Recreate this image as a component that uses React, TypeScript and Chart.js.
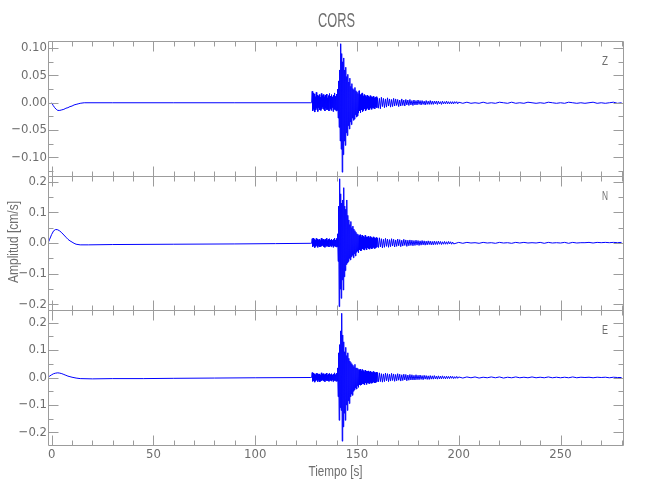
import React, { useEffect, useRef } from "react";
import { Chart, registerables } from "chart.js";

Chart.register(...registerables);

// ---------------- text ----------------
const TITLE = "CORS";
const X_TITLE = "Tiempo [s]";
const Y_TITLE = "Amplitud [cm/s]";

// ---------------- axes ----------------
const X_MIN = -1.8;
const X_MAX = 280.7;
const X_TICKS = [0, 50, 100, 150, 200, 250];
const X_MINOR = [0, 10, 20, 30, 40, 50, 60, 70, 80, 90, 100, 110, 120, 130, 140, 150, 160, 170, 180, 190, 200, 210, 220, 230, 240, 250, 260, 270, 280];

const Z_TICKS = [-0.1, -0.05, 0, 0.05, 0.1];
const Z_MINOR = [-0.125, -0.1, -0.075, -0.05, -0.025, 0, 0.025, 0.05, 0.075, 0.1];
const NE_TICKS = [-0.2, -0.1, 0, 0.1, 0.2];
const NE_MINOR = [-0.2, -0.15, -0.1, -0.05, 0, 0.05, 0.1, 0.15, 0.2];

// ---------------- data (amplitudes in 0.001 cm/s) ----------------
const UNIT = 0.001;
const ACTIVE_START = 127.5; // s, sample step below
const ACTIVE_STEP = 0.25;
const CODA_START = 160;
const CODA_STEP = 0.5;
const LATE_START = 200;
const LATE_STEP = 2;

// Z component
const zEarlyT = [0, 0.75, 1.5, 2.25, 3, 4, 5, 6, 7, 8, 9, 10, 11, 12, 13, 14, 16, 30, 60, 90, 127];
const zEarlyV = [0, -5, -9, -12, -14, -14, -13, -12, -10, -9, -7, -6, -4, -3, -2, -1, 0, 0, 0, 0, 0];
const zActive = [
  0, 1,
  21, -15, 18, -12, 16, -17, 11, -13, 19, -10, 14, -16, 12, -9, 15, -13, 10, -14, 17, -11, 13, -8, 15, -12, 11, -15,
  14, -10, 16, -13, 9, -12, 13, -15, 17, -11, 12, -14, 15, -9, 11, -16, 14, -12, 18, -13, 12, -15, 16, -14,
  25, -28, 40, -45, 60, -70, 108, -85, 90, -127, 75, -95, 82, -70, 60, -78, 65, -55, 48, -60, 52, -42, 38, -48,
  45, -35, 30, -40, 35, -28, 26, -32, 24, -30, 28, -22, 22, -26,
  20, -24, 17, -19, 22, -15, 14, -18, 16, -13, 18, -16, 12, -14, 15, -11, 13, -15, 11, -12, 14, -10, 12, -13,
  10, -12, 13, -9, 11, -12, 10, -9, 12, -10, 9, -11, 10, -8, 11, -9,
];
const zCoda = [
  9, -10, 8, -11, 10, -7, 8, -9, 7, -8, 9, -6, 7, -8, 6, -7, 8, -6, 7, -5, 6, -7, 5, -6, 7, -5, 5, -6, 6, -4,
  5, -5, 6, -4, 4, -5, 5, -4, 4, -4, 5, -3, 4, -4, 4, -3, 3, -4, 4, -3, 3, -3, 4, -3, 3, -3, 3, -2, 3, -3,
  3, -2, 2, -3, 3, -2, 2, -2, 3, -2, 2, -2, 2, -2, 2, -2, 2, -1, 2, -2,
];
const zLate = [
  1, -1, 1, -1, 0, -1, 1, -1, 0, -1, 1, 0, -1, 1, -1, 0, -1, 1, 0, -1, 0, -1, 1, 0, -1, 0, -1, 1, 0, -1,
  0, -1, 0, 1, -1, 0, -1, 0, 1, -1, 0,
];

// N component
const nEarlyT = [-1.8, -1, 0, 1, 2, 3, 4, 5, 6, 7, 8, 9, 10, 11, 12, 14, 18, 30, 60, 90, 110, 127];
const nEarlyV = [0, 12, 28, 40, 44, 43, 39, 33, 26, 19, 12, 7, 3, -1, -4, -6, -6, -5, -4, -3, -2, -1];
const nActive = [
  -1, 0,
  14, -12, 16, -10, 12, -15, 9, -11, 15, -8, 13, -14, 10, -9, 12, -13, 8, -11, 16, -10, 11, -7, 13, -12, 9, -14,
  12, -8, 15, -11, 8, -10, 12, -13, 14, -9, 10, -12, 13, -8, 9, -14, 12, -10, 16, -11, 10, -13, 15, -12,
  30, -60, 120, -207, 209, -150, 160, -180, 130, -120, 140, -153, 180, -110, 120, -90, 110, -70, 140, -65,
  90, -60, 75, -50, 60, -55, 70, -45, 50, -40, 55, -48, 45, -35, 40, -42, 35, -30,
  30, -26, 28, -32, 24, -22, 27, -25, 20, -24, 26, -19, 22, -21, 18, -23, 25, -17, 20, -22, 19, -16, 22, -18,
  17, -20, 21, -15, 18, -19, 16, -17, 20, -14, 17, -18, 15, -16, 18, -13,
];
const nCoda = [
  16, -15, 17, -13, 14, -16, 12, -14, 15, -11, 13, -14, 11, -12, 14, -10, 12, -13, 10, -11, 13, -9, 11, -12,
  9, -10, 12, -8, 10, -11, 9, -9, 10, -8, 9, -9, 8, -8, 9, -7, 8, -8, 7, -7, 8, -6, 7, -7, 6, -6, 7, -5,
  6, -6, 5, -6, 6, -5, 5, -5, 6, -4, 5, -5, 4, -4, 5, -4, 4, -4, 5, -3, 4, -4, 3, -3,
];
const nLate = [
  2, -1, 2, 0, 1, -1, 2, 0, 1, -1, 2, 0, 1, -1, 2, 0, 2, 0, 1, 0, 2, -1, 2, 0, 1, 0, 2, -1, 2, 0,
  1, 1, 2, 0, 2, 1, 2, 1, 2, 1, 2,
];

// E component
const eEarlyT = [-1.8, -1, 0, 1, 2, 3, 4, 5, 6, 7, 8, 9, 10, 12, 14, 20, 30, 45, 60, 80, 100, 127];
const eEarlyV = [0, 5, 10, 14, 16, 17, 16, 14, 11, 8, 5, 3, 1, -2, -4, -5, -4, -4, -3, -2, -1, 0];
const eActive = [
  0, 1,
  18, -14, 16, -12, 13, -17, 10, -12, 15, -9, 14, -15, 11, -10, 13, -16, 9, -12, 17, -11, 12, -8, 14, -13, 10, -15,
  13, -9, 16, -12, 9, -11, 13, -14, 15, -10, 11, -13, 14, -9, 10, -15, 13, -11, 17, -12, 11, -14, 16, -13,
  35, -70, 90, -156, 120, -110, 170, -120, 234, -232, 155, -180, 130, -130, 94, -156, 110, -100, 80, -120,
  90, -85, 70, -95, 60, -70, 55, -60, 50, -65, 45, -50, 40, -45, 48, -38, 35, -42,
  35, -30, 32, -36, 28, -26, 30, -28, 24, -27, 29, -22, 25, -24, 21, -26, 27, -20, 23, -25, 22, -19, 24, -21,
  20, -22, 23, -18, 20, -21, 18, -19, 22, -16, 19, -20, 17, -18, 20, -15,
];
const eCoda = [
  18, -16, 17, -15, 14, -17, 13, -15, 16, -12, 14, -15, 12, -13, 15, -11, 13, -14, 11, -12, 14, -10, 12, -13,
  10, -11, 12, -9, 11, -12, 9, -10, 11, -9, 10, -9, 8, -9, 10, -8, 8, -8, 9, -7, 7, -8, 8, -6, 7, -7,
  6, -7, 7, -6, 6, -6, 7, -5, 5, -6, 6, -5, 5, -5, 6, -4, 4, -5, 5, -4, 4, -4, 5, -3, 4, -4, 3, -3, 4, -3,
];
const eLate = [
  2, -2, 2, -1, 2, -2, 1, -1, 2, -1, 2, -2, 1, -1, 2, -1, 1, -1, 2, -1, 1, -1, 2, -1, 1, -1, 1, -1, 2, -1,
  1, 0, 1, -1, 1, 0, 1, -1, 1, 0, 0,
];

// ---------------- style ----------------
const FONT = '"Liberation Sans Narrow", "DejaVu Sans Condensed", "Liberation Sans", sans-serif';
const TEXT_FONT = '"Liberation Sans", sans-serif';
const TEXT_COLOR = "#6e6e6e";
const FRAME_COLOR = "#9c9c9c";
const LINE_COLOR = "#0000ff";

type Pt = { x: number; y: number };

function buildSeries(et: number[], ev: number[], active: number[], coda: number[], late: number[]): Pt[] {
  const pts: Pt[] = [];
  et.forEach((t, i) => pts.push({ x: t, y: ev[i] * UNIT }));
  active.forEach((v, i) => pts.push({ x: ACTIVE_START + i * ACTIVE_STEP, y: v * UNIT }));
  coda.forEach((v, i) => pts.push({ x: CODA_START + i * CODA_STEP, y: v * UNIT }));
  late.forEach((v, i) => pts.push({ x: LATE_START + i * LATE_STEP, y: v * UNIT }));
  return pts;
}

const fmt = (v: number, d: number) => {
  const s = Math.abs(v).toFixed(d);
  return v < -1e-9 ? "\u2212" + s : s;
};

// draws narrow text: font size sets height, width is squeezed to the target width
function narrowText(ctx: CanvasRenderingContext2D, text: string, x: number, y: number, size: number, width: number, rotate = false) {
  ctx.save();
  ctx.font = `${size}px ${TEXT_FONT}`;
  const w = ctx.measureText(text).width;
  ctx.translate(x, y);
  if (rotate) ctx.rotate(-Math.PI / 2);
  ctx.scale(width / w, 1);
  ctx.textAlign = "center";
  ctx.textBaseline = "middle";
  ctx.fillText(text, 0, 0);
  ctx.restore();
}

const PANELS = [
  {
    name: "Z", data: () => buildSeries(zEarlyT, zEarlyV, zActive, zCoda, zLate),
    yMin: -0.134, yMax: 0.113, ticks: Z_TICKS, minor: Z_MINOR, dec: 2,
    padTop: 41, padBottom: 324, showX: false, title: true, yTitle: false,
  },
  {
    name: "N", data: () => buildSeries(nEarlyT, nEarlyV, nActive, nCoda, nLate),
    yMin: -0.218, yMax: 0.218, ticks: NE_TICKS, minor: NE_MINOR, dec: 1,
    padTop: 176, padBottom: 190, showX: false, title: false, yTitle: true,
  },
  {
    name: "E", data: () => buildSeries(eEarlyT, eEarlyV, eActive, eCoda, eLate),
    yMin: -0.246, yMax: 0.246, ticks: NE_TICKS, minor: NE_MINOR, dec: 1,
    padTop: 310, padBottom: 0, showX: true, title: false, yTitle: false,
  },
];

function makeFramePlugin(p: (typeof PANELS)[number]) {
  return {
    id: "frame" + p.name,
    afterDatasetsDraw(chart: any) {
      const { ctx, chartArea: a, scales } = chart;
      const xs = scales.x;
      const ys = scales.y;
      ctx.save();
      ctx.strokeStyle = FRAME_COLOR;
      ctx.lineWidth = 1;
      const L = Math.round(a.left) + 0.5;
      const R = Math.round(a.right) + 0.5;
      const T = Math.round(a.top) + 0.5;
      const B = Math.round(a.bottom) + 0.5;
      ctx.beginPath();
      ctx.rect(L, T, R - L, B - T);
      X_MINOR.forEach((v) => {
        const px = Math.round(xs.getPixelForValue(v)) + 0.5;
        const len = v % 50 === 0 ? 10 : 5;
        ctx.moveTo(px, B); ctx.lineTo(px, B - len);
        ctx.moveTo(px, T); ctx.lineTo(px, T + len);
      });
      p.minor.forEach((v) => {
        const py = Math.round(ys.getPixelForValue(v)) + 0.5;
        const major = p.ticks.some((t) => Math.abs(t - v) < 1e-9);
        const len = major ? 10 : 5;
        ctx.moveTo(L, py); ctx.lineTo(L + len, py);
        ctx.moveTo(R, py); ctx.lineTo(R - len, py);
      });
      ctx.stroke();

      ctx.fillStyle = TEXT_COLOR;
      narrowText(ctx, p.name, a.right - 18, a.top + 21, 12, 6);

      const cx = (a.left + a.right) / 2;
      if (p.title) narrowText(ctx, TITLE, cx + 1, 21, 21, 37);
      if (p.showX) narrowText(ctx, X_TITLE, cx, 472, 14, 54);
      if (p.yTitle) narrowText(ctx, Y_TITLE, 14.5, 242, 14, 82, true);
      ctx.restore();
    },
  };
}

function Panel({ p }: { p: (typeof PANELS)[number] }) {
  const ref = useRef<HTMLCanvasElement | null>(null);
  useEffect(() => {
    if (!ref.current) return;
    const chart = new Chart(ref.current, {
      type: "line",
      data: {
        datasets: [
          {
            data: p.data(),
            borderColor: LINE_COLOR,
            borderWidth: 1,
            pointRadius: 0,
            fill: false,
            tension: 0,
          },
        ],
      },
      options: {
        animation: false,
        responsive: false,
        events: [],
        parsing: false as any,
        layout: { padding: { top: p.padTop, bottom: p.padBottom, left: 0, right: 27 } },
        plugins: { legend: { display: false }, tooltip: { enabled: false }, title: { display: false } },
        scales: {
          x: {
            type: "linear",
            min: X_MIN,
            max: X_MAX,
            display: p.showX,
            grid: { display: false, drawTicks: false },
            border: { display: false },
            afterBuildTicks: (s: any) => { s.ticks = X_TICKS.map((v) => ({ value: v })); },
            afterFit: (s: any) => { s.height = p.showX ? 55 : 0; },
            ticks: {
              color: TEXT_COLOR,
              font: { family: FONT, size: 13 },
              padding: 2,
              maxRotation: 0,
              autoSkip: false,
              callback: (v: any) => String(v),
            },
          },
          y: {
            type: "linear",
            min: p.yMin,
            max: p.yMax,
            grid: { display: false, drawTicks: false },
            border: { display: false },
            afterBuildTicks: (s: any) => { s.ticks = p.ticks.map((v) => ({ value: v })); },
            afterFit: (s: any) => { s.width = 48; },
            ticks: {
              color: TEXT_COLOR,
              font: { family: FONT, size: 13 },
              padding: 1,
              autoSkip: false,
              callback: (v: any) => fmt(Number(v), p.dec),
            },
          },
        },
      } as any,
      plugins: [makeFramePlugin(p)],
    });
    return () => chart.destroy();
  }, [p]);
  return (
    <canvas
      ref={ref}
      width={650}
      height={500}
      style={{ position: "absolute", left: 0, top: 0, width: 650, height: 500 }}
    />
  );
}

export default function App() {
  return (
    <div style={{ position: "fixed", left: 0, top: 0, width: 650, height: 500, background: "#fff" }}>
      {PANELS.map((p) => (
        <Panel key={p.name} p={p} />
      ))}
    </div>
  );
}
